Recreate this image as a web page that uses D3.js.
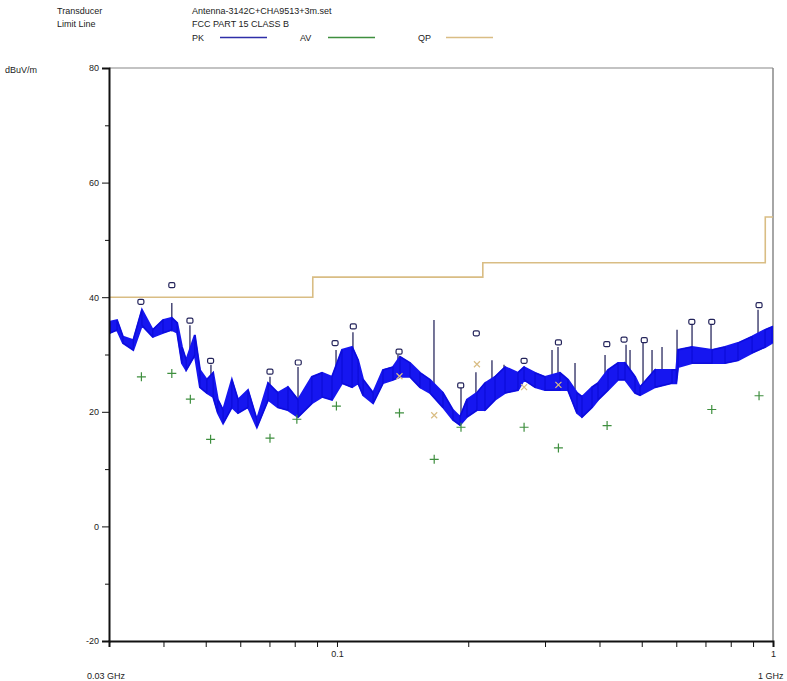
<!DOCTYPE html>
<html>
<head>
<meta charset="utf-8">
<script src="https://cdn.jsdelivr.net/npm/d3@7"></script>
<style>
  body { margin: 0; background: #fff; }
  svg { display: block; font-family: "Liberation Sans", Arial, sans-serif; }
</style>
</head>
<body>
<svg id="chart" width="787" height="681"></svg>
<script>
// ---------- data ----------
const headerLabels = ["Transducer", "Limit Line"];
const headerValues = ["Antenna-3142C+CHA9513+3m.set", "FCC PART 15 CLASS B"];
const legendNames = ["PK", "AV", "QP"];

const yTicks = [-20, -10, 0, 10, 20, 30, 40, 50, 60, 70, 80];
const yLabelTicks = [-20, 0, 20, 40, 60, 80];
const xTicks = [0.04, 0.05, 0.06, 0.07, 0.08, 0.09, 0.1, 0.2, 0.3, 0.4, 0.5, 0.6, 0.7, 0.8, 0.9, 1];
const xLabelTicks = [0.1, 1];

// FCC Part 15 class B limit (QP), step after each break
const limitF = [0.03, 0.088, 0.216, 0.96, 1];
const limitV = [40, 43.5, 46, 54, 54];

// PK sweep trace envelope (GHz, high dB, low dB)
const traceF  = [0.0302,0.0313,0.0323,0.0341,0.0357,0.0378,0.0399,0.0418,0.0430,0.0441,0.0451,0.0472,0.0485,0.0503,0.0520,0.0533,0.0548,0.0574,0.0593,0.0625,0.0655,0.0695,0.0732,0.0772,0.0814,0.0876,0.0924,0.0974,0.1027,0.1083,0.1118,0.1148,0.1210,0.1275,0.1344,0.1395,0.1471,0.1550,0.1634,0.1750,0.1845,0.1915,0.1987,0.2094,0.2185,0.2304,0.2429,0.2601,0.2685,0.2846,0.3000,0.3247,0.3387,0.3552,0.3647,0.3845,0.3969,0.4184,0.4411,0.4577,0.4826,0.4955,0.5363,0.5867,0.6000,0.6056,0.6521,0.7248,0.7762,0.8312,0.8953,0.9589,0.9950];
const traceHi = [35.7,36.0,33.1,32.5,37.8,34.3,36.0,36.4,35.5,31.3,29.0,33.4,27.3,25.6,26.8,22.1,20.3,25.6,22.1,23.8,18.6,25.0,23.3,24.3,22.1,26.1,26.8,26.1,30.8,31.3,29.0,25.6,23.3,27.3,27.8,29.6,28.5,26.8,25.6,23.3,20.3,19.1,22.1,23.3,25.0,26.1,27.8,26.8,27.8,26.8,26.1,26.8,25.6,23.3,22.6,24.3,25.0,27.3,28.5,28.5,26.1,24.3,27.3,27.3,27.3,30.8,31.3,30.8,31.3,32.0,33.1,34.3,34.8];
const traceLo = [33.8,34.3,32.0,30.8,35.1,33.1,33.8,34.3,33.8,28.5,27.3,29.9,24.3,23.3,22.6,19.8,18.0,20.8,19.8,20.8,17.3,22.1,20.8,20.3,19.1,21.5,22.6,22.1,25.0,24.3,25.0,22.9,21.5,25.0,25.6,26.1,26.1,24.3,23.3,20.8,18.6,17.7,19.1,20.3,20.3,22.1,23.3,23.8,25.6,24.3,23.8,23.8,23.8,19.8,19.1,20.8,22.1,23.8,25.6,25.6,23.3,22.9,24.3,25.0,25.0,27.8,28.5,28.5,28.5,29.0,30.3,31.3,32.0];

// narrow spikes on the trace (GHz, top dB, base dB)
const spikeF   = [0.0418,0.0460,0.0514,0.0702,0.0814,0.0995,0.1088,0.1380,0.1669,0.1925,0.2083,0.2267,0.2416,0.2507,0.3113,0.3213,0.3515,0.4119,0.4602,0.4700,0.5034,0.5279,0.5565,0.6024,0.6521,0.7209,0.9240];
const spikeTop = [39.0,35.1,28.2,26.1,27.8,30.8,33.9,29.9,36.0,24.2,26.9,29.0,28.2,27.3,30.8,31.3,28.5,29.9,31.7,30.8,32.5,30.8,31.3,34.3,36.0,36.0,37.8];
const spikeBase= [34.0,30.0,24.0,22.0,21.0,24.0,27.0,27.0,24.0,19.0,21.0,23.0,24.0,24.0,25.0,25.0,24.0,24.0,27.0,26.0,24.0,25.0,26.0,27.0,29.0,29.0,31.0];

// PK final measurements (square markers)
const pkF = [0.0355,0.0418,0.0460,0.0513,0.0702,0.0815,0.0990,0.1090,0.1388,0.1922,0.2087,0.2686,0.3220,0.4157,0.4554,0.5067,0.6513,0.7237,0.9290];
const pkV = [39.2,42.1,35.9,28.9,27.0,28.6,32.0,34.9,30.5,24.6,33.7,28.9,32.1,31.8,32.6,32.5,35.7,35.7,38.6];

// AV final measurements (plus markers)
const avF = [0.0356,0.0418,0.0461,0.0513,0.0702,0.0809,0.0997,0.1391,0.1671,0.1925,0.2686,0.3220,0.4164,0.7237,0.9290];
const avV = [26.1,26.7,22.2,15.2,15.4,18.7,21.0,19.8,11.7,17.3,17.3,13.7,17.6,20.4,22.8];

// QP final measurements (x markers, visible ones)
const qpF = [0.1391,0.1671,0.2094,0.2686,0.3220];
const qpV = [26.2,19.4,28.3,24.3,24.7];

// ---------- drawing ----------
const svg = d3.select("#chart");
const L = 109, R = 773, T = 68, B = 641;
const x = d3.scaleLog().domain([0.03, 1]).range([L, R]);
const y = d3.scaleLinear().domain([-20, 80]).range([B, T]);

const colPK = "#1616f0", colPKleg = "#2e2ea8", colAV = "#3f8f3f", colQP = "#d9bd84";

// header
const hdr = svg.append("g").attr("font-size", 9).attr("fill", "#222");
headerLabels.forEach((t, i) => hdr.append("text").attr("x", 57).attr("y", 14 + i * 13).text(t));
headerValues.forEach((t, i) => hdr.append("text").attr("x", 192).attr("y", 14 + i * 13).text(t));
const legX = [192, 300, 418];
const legCol = [colPKleg, colAV, colQP];
legendNames.forEach((n, i) => {
  hdr.append("text").attr("x", legX[i]).attr("y", 41).text(n);
  svg.append("line").attr("x1", legX[i] + 28).attr("x2", legX[i] + 75)
    .attr("y1", 37.5).attr("y2", 37.5).attr("stroke", legCol[i]).attr("stroke-width", 1.4);
});
svg.append("text").attr("x", 5).attr("y", 73).attr("font-size", 9).attr("fill", "#222").text("dBuV/m");

// frame (top and right)
svg.append("line").attr("x1", L).attr("x2", R).attr("y1", T).attr("y2", T).attr("stroke", "#888").attr("stroke-width", 1.2);
svg.append("line").attr("x1", R).attr("x2", R).attr("y1", T).attr("y2", B).attr("stroke", "#888").attr("stroke-width", 1.5);

// limit line
const limitPts = limitF.map((f, i) => [f, limitV[i]]);
svg.append("path").datum(limitPts)
  .attr("d", d3.line().x(d => x(d[0])).y(d => y(d[1])).curve(d3.curveStepAfter))
  .attr("fill", "none").attr("stroke", colQP).attr("stroke-width", 1.6);

// spikes (drawn beneath and above band)
svg.append("g").selectAll("line").data(spikeF).join("line")
  .attr("x1", d => x(d)).attr("x2", d => x(d))
  .attr("y1", (d, i) => y(spikeBase[i])).attr("y2", (d, i) => y(spikeTop[i]))
  .attr("stroke", "#2a2a60").attr("stroke-width", 1.3);

// trace band
const tr = traceF.map((f, i) => ({ f, hi: traceHi[i], lo: traceLo[i] }));
svg.append("path").datum(tr)
  .attr("d", d3.area().x(d => x(d.f)).y0(d => y(d.lo)).y1(d => y(d.hi)))
  .attr("fill", colPK).attr("stroke", colPK).attr("stroke-width", 2);
const zig = [];
tr.forEach((d, i) => { if (i % 2 === 0) { zig.push([d.f, d.hi]); zig.push([d.f, d.lo]); } else { zig.push([d.f, d.lo]); zig.push([d.f, d.hi]); } });
svg.append("path").datum(zig)
  .attr("d", d3.line().x(d => x(d[0])).y(d => y(d[1])))
  .attr("fill", "none").attr("stroke", "#0c0cd8").attr("stroke-width", 1.2);

// QP markers
svg.append("g").selectAll("path").data(qpF).join("path")
  .attr("d", (d, i) => { const cx = x(d), cy = y(qpV[i]); return `M${cx-3},${cy-3}L${cx+3},${cy+3}M${cx-3},${cy+3}L${cx+3},${cy-3}`; })
  .attr("stroke", colQP).attr("stroke-width", 1.2).attr("fill", "none");

// AV markers
svg.append("g").selectAll("path").data(avF).join("path")
  .attr("d", (d, i) => { const cx = x(d), cy = y(avV[i]); return `M${cx-4.5},${cy}L${cx+4.5},${cy}M${cx},${cy-4.5}L${cx},${cy+4.5}`; })
  .attr("stroke", colAV).attr("stroke-width", 1.2).attr("fill", "none");

// PK markers
svg.append("g").selectAll("rect").data(pkF).join("rect")
  .attr("x", d => x(d) - 3).attr("y", (d, i) => y(pkV[i]) - 2.5)
  .attr("width", 6).attr("height", 5).attr("rx", 1.5)
  .attr("fill", "#fff").attr("stroke", "#23235a").attr("stroke-width", 1.2);

// axes
const ya = svg.append("g").attr("transform", `translate(${L},0)`)
  .call(d3.axisLeft(y).tickValues(yTicks).tickSize(7).tickPadding(3)
    .tickFormat(d => yLabelTicks.includes(d) ? String(d) : ""));
ya.selectAll(".tick line").attr("stroke", "#111")
  .attr("x2", d => yLabelTicks.includes(d) ? -7 : -4);
ya.select(".domain").attr("stroke", "#111").attr("stroke-width", 2);
ya.selectAll("text").attr("font-size", 9).attr("fill", "#222").attr("font-family", "Liberation Sans, Arial, sans-serif");

const xa = svg.append("g").attr("transform", `translate(0,${B})`)
  .call(d3.axisBottom(x).tickValues(xTicks).tickSize(6).tickPadding(4)
    .tickFormat(d => xLabelTicks.includes(d) ? String(d) : ""));
xa.selectAll(".tick line").attr("stroke", "#111");
xa.select(".domain").attr("stroke", "#111").attr("stroke-width", 2);
xa.selectAll("text").attr("font-size", 9).attr("fill", "#222").attr("font-family", "Liberation Sans, Arial, sans-serif");

svg.append("text").attr("x", x(0.03) - 22).attr("y", 679).attr("font-size", 9).attr("fill", "#222").text("0.03 GHz");
svg.append("text").attr("x", x(1) - 15).attr("y", 679).attr("font-size", 9).attr("fill", "#222").text("1 GHz");
</script>
</body>
</html>
